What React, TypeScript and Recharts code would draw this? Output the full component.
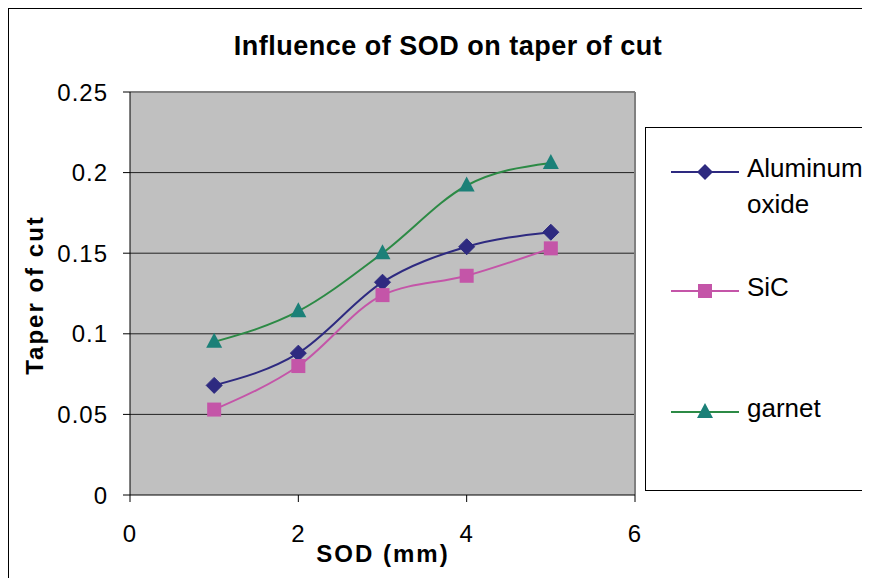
import React from "react";
import {
  LineChart,
  Line,
  XAxis,
  YAxis,
  CartesianGrid,
  ReferenceLine,
} from "recharts";

// SOD values (mm)
const sod = [1, 2, 3, 4, 5];

// taper of cut per abrasive
const aluminumOxide = [0.068, 0.088, 0.132, 0.154, 0.163];
const sic = [0.053, 0.08, 0.124, 0.136, 0.153];
const garnet = [0.095, 0.114, 0.15, 0.192, 0.206];

const yTicks = [0, 0.05, 0.1, 0.15, 0.2, 0.25];
const xTicks = [0, 2, 4, 6];

const data = sod.map((x, i) => ({
  sod: x,
  alu: aluminumOxide[i],
  sic: sic[i],
  garnet: garnet[i],
}));

const FONT = "'Liberation Sans', Arial, sans-serif";
const NAVY = "#2E2A80";
const PINK = "#C455A8";
const GREEN_LINE = "#2C8A45";
const TEAL = "#1B8078";

const Diamond = (props: any) => {
  const { cx, cy } = props;
  if (cx == null || cy == null) return null;
  const r = 8;
  return (
    <path
      d={`M${cx},${cy - r} L${cx + r},${cy} L${cx},${cy + r} L${cx - r},${cy} Z`}
      fill={NAVY}
      stroke={NAVY}
    />
  );
};

const Square = (props: any) => {
  const { cx, cy } = props;
  if (cx == null || cy == null) return null;
  const s = 7;
  return <rect x={cx - s} y={cy - s} width={s * 2} height={s * 2} fill={PINK} />;
};

const Triangle = (props: any) => {
  const { cx, cy } = props;
  if (cx == null || cy == null) return null;
  return (
    <path
      d={`M${cx},${cy - 9} L${cx + 8},${cy + 6} L${cx - 8},${cy + 6} Z`}
      fill={TEAL}
    />
  );
};

const legendItems = [
  { label: ["Aluminum", "oxide"], color: NAVY, marker: "diamond", top: 31 },
  { label: ["SiC"], color: PINK, marker: "square", top: 150 },
  { label: ["garnet"], color: GREEN_LINE, marker: "triangle", top: 271 },
];

function LegendMarker({ kind }: { kind: string }) {
  if (kind === "diamond")
    return <path d="M34,3 L42,11 L34,19 L26,11 Z" fill={NAVY} />;
  if (kind === "square") return <rect x={27} y={4} width={14} height={14} fill={PINK} />;
  return <path d="M34,2 L42,17 L26,17 Z" fill={TEAL} />;
}

const tickStyle = { fill: "#000", fontSize: 24, fontFamily: FONT, letterSpacing: 1 };

export default function App() {
  return (
    <div
      style={{
        position: "relative",
        width: 880,
        height: 580,
        borderLeft: "1px solid #000",
        borderTop: "1px solid #000",
        boxSizing: "border-box",
        background: "#fff",
        fontFamily: FONT,
        overflow: "hidden",
      }}
    >
      <style>{"html, body { overflow: hidden; }"}</style>
      {/* title */}
      <div
        style={{
          position: "absolute",
          left: 0,
          width: 878,
          top: 22,
          textAlign: "center",
          fontWeight: "bold",
          fontSize: 27,
          letterSpacing: 0.5,
          color: "#000",
        }}
      >
        Influence of SOD on taper of cut
      </div>

      <LineChart
        width={861}
        height={561}
        data={data}
        margin={{ top: 83, right: 235, bottom: 15, left: 41 }}
      >
        <CartesianGrid
          vertical={false}
          fill="#C0C0C0"
          stroke="#222"
          strokeWidth={1}
          horizontalValues={[0.05, 0.1, 0.15, 0.2]}
        />
        <XAxis
          type="number"
          dataKey="sod"
          domain={[0, 6]}
          ticks={xTicks}
          height={60}
          stroke="#000"
          tickSize={7}
          tickMargin={23}
          tick={tickStyle}
        />
        <YAxis
          type="number"
          domain={[0, 0.25]}
          ticks={yTicks}
          width={80}
          stroke="#000"
          tickSize={7}
          tickMargin={15}
          tickFormatter={(v: number) => String(v)}
          tick={tickStyle}
        />
        <ReferenceLine y={0.25} stroke="#808080" strokeWidth={2} />
        <ReferenceLine x={6} stroke="#808080" strokeWidth={2} />
        <Line
          type="monotone"
          dataKey="alu"
          stroke={NAVY}
          strokeWidth={2}
          dot={<Diamond />}
          isAnimationActive={false}
        />
        <Line
          type="monotone"
          dataKey="sic"
          stroke={PINK}
          strokeWidth={2}
          dot={<Square />}
          isAnimationActive={false}
        />
        <Line
          type="monotone"
          dataKey="garnet"
          stroke={GREEN_LINE}
          strokeWidth={2}
          dot={<Triangle />}
          isAnimationActive={false}
        />
      </LineChart>

      {/* axis titles */}
      <div
        style={{
          position: "absolute",
          left: 374 - 120,
          width: 240,
          top: 531,
          textAlign: "center",
          fontWeight: "bold",
          fontSize: 24,
          letterSpacing: 2,
        }}
      >
        SOD (mm)
      </div>
      <div
        style={{
          position: "absolute",
          left: 26 - 120,
          top: 287 - 15,
          width: 240,
          textAlign: "center",
          fontWeight: "bold",
          fontSize: 24,
          letterSpacing: 2,
          transform: "rotate(-90deg)",
        }}
      >
        Taper of cut
      </div>

      {/* legend */}
      <div
        style={{
          position: "absolute",
          left: 636,
          top: 118,
          width: 260,
          height: 364,
          border: "1px solid #000",
          boxSizing: "border-box",
          background: "#fff",
        }}
      >
        {legendItems.map((it) => (
          <div
            key={it.color}
            style={{ position: "absolute", left: 25, top: it.top, display: "flex" }}
          >
            <svg width={70} height={22} style={{ marginTop: 2 }}>
              <line x1={0} y1={11} x2={68} y2={11} stroke={it.color} strokeWidth={2} />
              <LegendMarker kind={it.marker} />
            </svg>
            <div
              style={{
                marginLeft: 6,
                fontSize: 26,
                lineHeight: "36px",
                marginTop: -9,
                whiteSpace: "nowrap",
              }}
            >
              {it.label.map((l) => (
                <div key={l}>{l}</div>
              ))}
            </div>
          </div>
        ))}
      </div>
    </div>
  );
}
